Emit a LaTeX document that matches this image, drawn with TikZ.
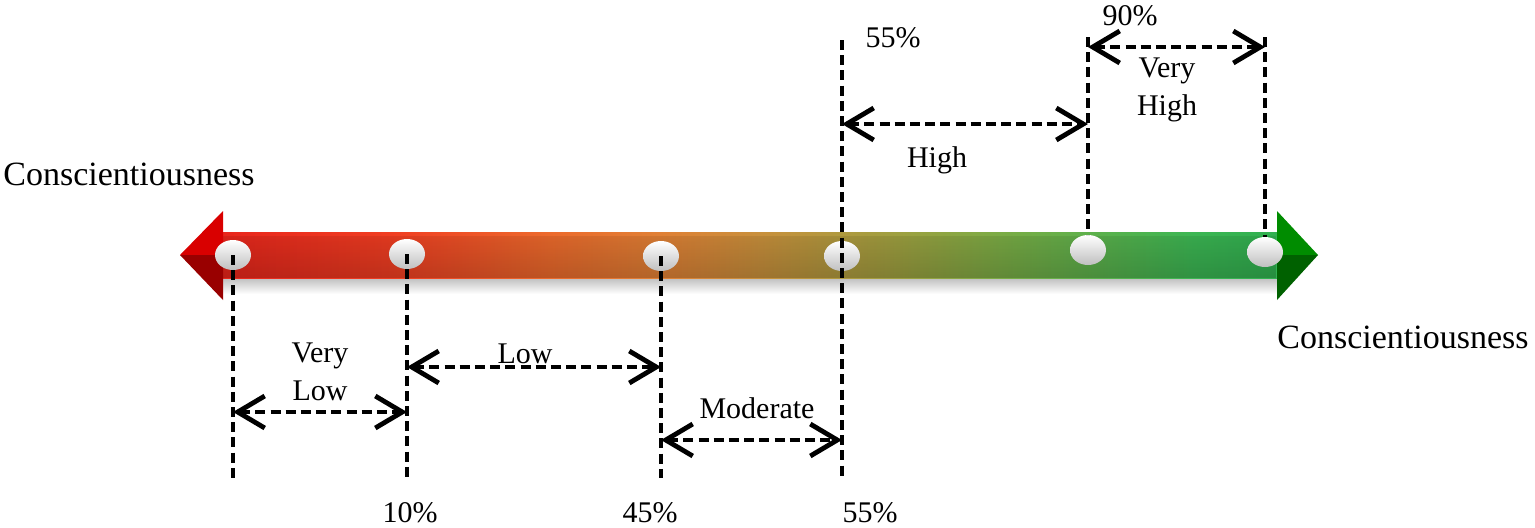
\documentclass[tikz,border=0pt]{standalone}
\usepackage{fontspec}
\setmainfont{Liberation Serif}
\usetikzlibrary{arrows.meta,shapes.geometric,fadings}
\definecolor{cA}{HTML}{E8261C}
\definecolor{cB}{HTML}{F03E22}
\definecolor{cC}{HTML}{EC6A2C}
\definecolor{cD}{HTML}{E08035}
\definecolor{cE}{HTML}{C8903C}
\definecolor{cF}{HTML}{9EA040}
\definecolor{cG}{HTML}{7AAC45}
\definecolor{cH}{HTML}{3CB653}
\definecolor{cI}{HTML}{30B050}
\pgfdeclarehorizontalshading{conscbar}{100bp}{color(0bp)=(cA); color(25bp)=(cA);
  color(33bp)=(cB); color(40.5bp)=(cC); color(45.7bp)=(cD); color(50.5bp)=(cE);
  color(57bp)=(cF); color(62bp)=(cG); color(71bp)=(cH); color(75bp)=(cI); color(100bp)=(cI)}
\tikzfading[name=tubefade, top color=transparent!92, middle color=transparent!45, bottom color=transparent!80]
\tikzset{
  guideline/.style={line width=2.2pt, dash pattern=on 5pt off 2.6pt},
  spanarrow/.style={guideline, {Straight Barb[length=13.5pt,width=16pt,line width=2.4pt]}-{Straight Barb[length=13.5pt,width=16pt,line width=2.4pt]}},
  lbl/.style={font=\fontsize{15}{19}\selectfont, inner sep=0pt},
  axlbl/.style={font=\fontsize{17}{20}\selectfont, inner sep=0pt},
  knob/.style={ellipse, minimum width=18pt, minimum height=15pt, inner sep=0pt,
    shading=axis, top color=white, middle color=white, bottom color=black!25}
}
\begin{document}
\begin{tikzpicture}[x=0.5pt, y=-0.5pt]
  \useasboundingbox (0,0) rectangle (1535,527);
  %% the coloured bar
  \shade[top color=black!25, bottom color=white, draw=none] (223,278) rectangle (1277,294);
  \shade[shading=conscbar] (223,232) rectangle (1277,278);
  \fill[black, path fading=tubefade] (223,236) rectangle (1277,278);
  \fill[red!85!black] (180,255) -- (223,211) -- (223,255) -- cycle;
  \fill[red!60!black] (180,255) -- (223,300) -- (223,255) -- cycle;
  \fill[green!55!black] (1318,255) -- (1277,211) -- (1277,255) -- cycle;
  \fill[green!38!black] (1318,255) -- (1277,300) -- (1277,255) -- cycle;
  %% knobs
  \node (p0) at (233,255) [knob] {};
  \node (p10) at (407,254) [knob] {};
  \node (p45) at (661,256) [knob] {};
  \node (p55) at (842,256) [knob] {};
  \node (p90) at (1088,250) [knob] {};
  \node (p100) at (1265,252) [knob] {};
  \coordinate (b0) at (233,478);
  \coordinate (b10) at (407,478);
  \coordinate (b45) at (661,478);
  \coordinate (b55) at (842,478);
  \coordinate (t55) at (842,40);
  \coordinate (t90) at (1088,37);
  \coordinate (t100) at (1265,37);
  %% guide lines
  \draw[guideline] (p0.center) -- (b0);
  \draw[guideline] (p10.center) -- (b10);
  \draw[guideline] (p45.center) -- (b45);
  \draw[guideline] (t55) -- (b55);
  \draw[guideline] (t90) -- (p90.north);
  \draw[guideline] (t100) -- (p100.north);
  %% ranges
  \draw[spanarrow] (p0 |- 0,412) -- (p10 |- 0,412);
  \draw[spanarrow] (p10 |- 0,367) -- (p45 |- 0,367);
  \draw[spanarrow] (p45 |- 0,440) -- (p55 |- 0,440);
  \draw[spanarrow] (p55 |- 0,124) -- (p90 |- 0,124);
  \draw[spanarrow] (p90 |- 0,47) -- (p100 |- 0,47);
  %% labels
  \node (vlow) at (320,372) [lbl, align=center] {Very\\Low};
  \node (low) at (525,363) [lbl, anchor=base] {Low};
  \node (mod) at (757,418) [lbl, anchor=base] {Moderate};
  \node (high) at (937,167) [lbl, anchor=base] {High};
  \node (vhigh) at (1167,90) [lbl, align=center] {Very\\High};
  \node (q55t) at (893,47) [lbl, anchor=base] {55\%};
  \node (q90) at (1130,25) [lbl, anchor=base] {90\%};
  \node (q10) at (410,522) [lbl, anchor=base] {10\%};
  \node (q45) at (650,522) [lbl, anchor=base] {45\%};
  \node (q55b) at (870,522) [lbl, anchor=base] {55\%};
  \node (cl) at (129,185) [axlbl, anchor=base] {Conscientiousness};
  \node (cr) at (1403,348) [axlbl, anchor=base] {Conscientiousness};
\end{tikzpicture}
\end{document}
